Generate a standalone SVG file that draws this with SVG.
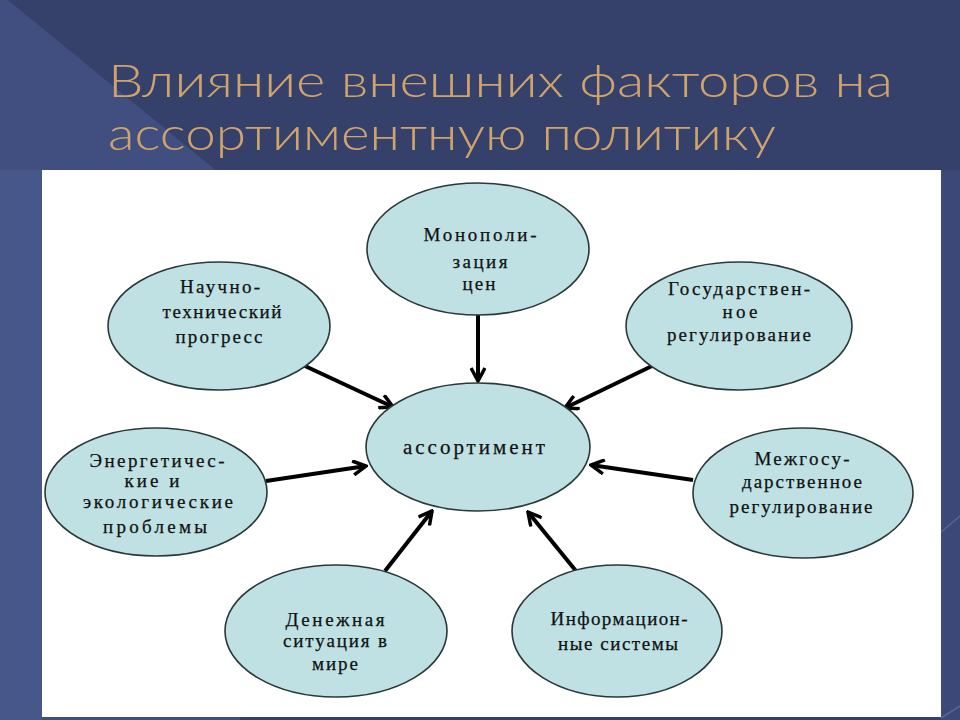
<svg xmlns="http://www.w3.org/2000/svg" width="960" height="720" viewBox="0 0 960 720">
<style>
.title{font-family:Lato,"Open Sans","DejaVu Sans",sans-serif;font-weight:300;font-size:46px;fill:#cfa36c}
.node ellipse{fill:#bfe1e4;stroke:#2b3838;stroke-width:1.6}
.node text{font-family:"Liberation Serif","Times New Roman",serif;font-size:19px;fill:#111;stroke:#111;stroke-width:0.25;text-anchor:middle}
.conn line{stroke:#000;stroke-width:4;marker-end:url(#chev)}
</style>
<defs>
<marker id="chev" viewBox="0 0 16 16" refX="14" refY="8" markerWidth="16" markerHeight="16" markerUnits="userSpaceOnUse" orient="auto">
<path d="M1,1 L14,8 L1,15" fill="none" stroke="#000" stroke-width="3.5"/>
</marker>
</defs>
<rect x="0" y="0" width="960" height="720" fill="#35416a"/>
<polygon points="0,0 8,0 240,190 240,720 0,720" fill="#404e80"/>
<rect x="0" y="170" width="42" height="550" fill="#48578a"/>
<rect x="941" y="170" width="19" height="550" fill="#3b4878"/>
<line x1="941" y1="532" x2="960" y2="516" stroke="#56669a" stroke-width="1.5"/>
<line x1="941" y1="718" x2="960" y2="706" stroke="#56669a" stroke-width="1.5"/>
<text class="title" x="108" y="97" textLength="785" lengthAdjust="spacingAndGlyphs">Влияние внешних факторов на</text>
<text class="title" x="108" y="150" textLength="668" lengthAdjust="spacingAndGlyphs">ассортиментную политику</text>
<rect x="42" y="170" width="899" height="547" fill="#ffffff"/>
<g class="conn" id="connectors">
<line x1="478" y1="315" x2="478" y2="381"/>
<line x1="305" y1="366" x2="393" y2="407"/>
<line x1="652" y1="366" x2="565" y2="408"/>
<line x1="266" y1="481" x2="366" y2="466"/>
<line x1="693" y1="480" x2="591" y2="465"/>
<line x1="385" y1="571" x2="432" y2="511"/>
<line x1="576" y1="571" x2="528" y2="512"/>
</g>
<g class="node" id="n-monopol">
<ellipse cx="478" cy="249" rx="111" ry="66"/>
<text x="480" y="241" textLength="113" lengthAdjust="spacing">Монополи-</text>
<text x="480" y="268" textLength="55" lengthAdjust="spacing">зация</text>
<text x="479" y="290" textLength="33" lengthAdjust="spacing">цен</text>
</g>
<g class="node" id="n-nauchno">
<ellipse cx="219" cy="326" rx="111" ry="64"/>
<text x="220" y="293" textLength="80" lengthAdjust="spacing">Научно-</text>
<text x="222" y="318" textLength="119" lengthAdjust="spacing">технический</text>
<text x="219" y="343" textLength="87" lengthAdjust="spacing">прогресс</text>
</g>
<g class="node" id="n-gosud">
<ellipse cx="739" cy="326" rx="113" ry="64"/>
<text x="739" y="295" textLength="142" lengthAdjust="spacing">Государствен-</text>
<text x="740" y="318" textLength="35" lengthAdjust="spacing">ное</text>
<text x="739" y="341" textLength="144" lengthAdjust="spacing">регулирование</text>
</g>
<g class="node" id="n-assort">
<ellipse cx="478" cy="447" rx="112" ry="64"/>
<text x="474" y="454" style="font-size:21px" textLength="142" lengthAdjust="spacing">ассортимент</text>
</g>
<g class="node" id="n-energ">
<ellipse cx="156" cy="492" rx="111" ry="64"/>
<text x="157" y="467" textLength="135" lengthAdjust="spacing">Энергетичес-</text>
<text x="152" y="487" textLength="55" lengthAdjust="spacing">кие и</text>
<text x="158" y="508" textLength="150" lengthAdjust="spacing">экологические</text>
<text x="155" y="533" textLength="104" lengthAdjust="spacing">проблемы</text>
</g>
<g class="node" id="n-mezhgos">
<ellipse cx="803" cy="493" rx="110" ry="65"/>
<text x="802" y="465" textLength="95" lengthAdjust="spacing">Межгосу-</text>
<text x="802" y="488" textLength="120" lengthAdjust="spacing">дарственное</text>
<text x="801" y="513" textLength="143" lengthAdjust="spacing">регулирование</text>
</g>
<g class="node" id="n-denezh">
<ellipse cx="336" cy="631" rx="111" ry="66"/>
<text x="335" y="626" textLength="99" lengthAdjust="spacing">Денежная</text>
<text x="335" y="647" textLength="104" lengthAdjust="spacing">ситуация в</text>
<text x="335" y="670" textLength="46" lengthAdjust="spacing">мире</text>
</g>
<g class="node" id="n-inform">
<ellipse cx="617" cy="631" rx="105" ry="66"/>
<text x="619" y="625" textLength="137" lengthAdjust="spacing">Информацион-</text>
<text x="618" y="650" textLength="120" lengthAdjust="spacing">ные системы</text>
</g>
</svg>
